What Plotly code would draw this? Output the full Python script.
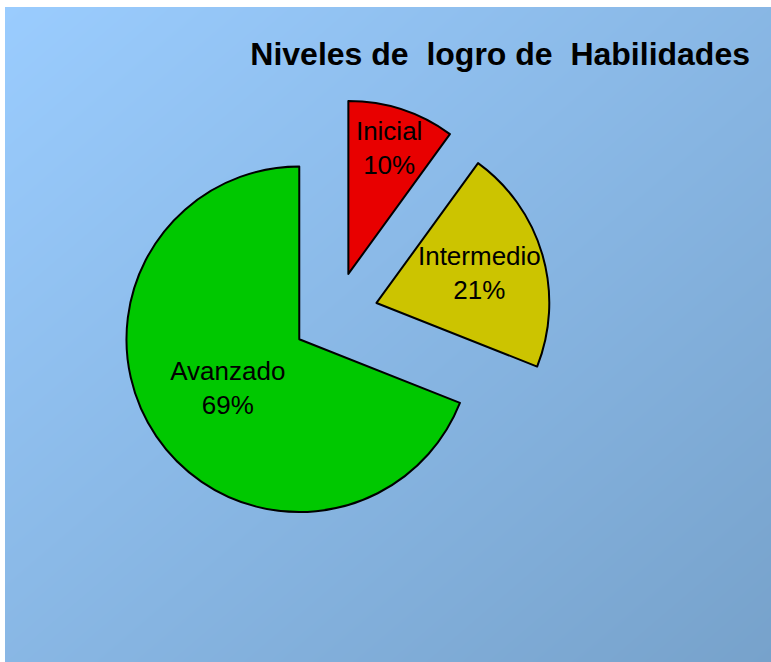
import plotly.graph_objects as go

labels = ["Inicial", "Intermedio", "Avanzado"]
values = [10, 21, 69]
colors = ["#E80000", "#CCC400", "#00C800"]
title_text = "Niveles de\u00a0 logro de\u00a0 Habilidades"

W, H = 771, 662
ml, mt = 5, 7
pw, ph = W - ml, H - mt

# pie box in pixel space -> paper fractions
def px_to_paper_x(px):
    return (px - ml) / pw

def px_to_paper_y(py):
    return (H - py) / ph

fig = go.Figure()

# background diagonal gradient
fig.add_trace(go.Heatmap(
    z=[[0.5, 1.0], [0.0, 0.5]], x=[0, 1], y=[0, 1],
    zsmooth="best", showscale=False, hoverinfo="skip",
    colorscale=[[0, "#9ACCFE"], [1, "#77A2CB"]],
    xaxis="x", yaxis="y",
))

fig.add_trace(go.Pie(
    labels=labels, values=values, sort=False, direction="clockwise", rotation=0,
    pull=[0.25, 0.25, 0.25],
    marker=dict(colors=colors, line=dict(color="#000000", width=2)),
    textinfo="label+percent", textposition="inside", insidetextorientation="horizontal",
    textfont=dict(family="Liberation Sans, Arial, sans-serif", size=26, color="#000000"),
    domain=dict(x=[px_to_paper_x(119), px_to_paper_x(551)],
                y=[px_to_paper_y(531), px_to_paper_y(99)]),
    showlegend=False, hoverinfo="label+percent",
))

fig.update_layout(
    width=W, height=H,
    margin=dict(l=ml, r=0, t=mt, b=0, pad=0),
    paper_bgcolor="#FFFFFF", plot_bgcolor="rgba(0,0,0,0)",
    xaxis=dict(range=[0, 1], visible=False, fixedrange=True),
    yaxis=dict(range=[0, 1], visible=False, fixedrange=True),
    uniformtext=dict(minsize=26, mode="show"),
    title=dict(text="<b>" + title_text + "</b>", xref="paper", yref="container",
               x=1 - (771 - 750) / pw, xanchor="right", y=1 - 54 / H, yanchor="middle",
               font=dict(family="Liberation Sans, Arial, sans-serif", size=32, color="#000000")),
)

fig.write_html("out.html", config={"displayModeBar": False},
               post_script="document.body.style.margin='0px';document.body.style.overflow='hidden';")
